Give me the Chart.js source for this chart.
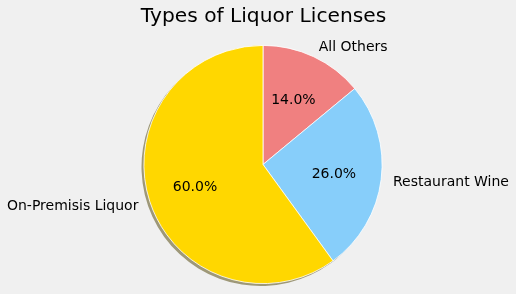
<!DOCTYPE html>
<html>
<head>
<meta charset="utf-8">
<script src="https://cdn.jsdelivr.net/npm/chart.js@4/dist/chart.umd.min.js"></script>
<style>
  html, body { margin: 0; padding: 0; background: #f0f0f0; }
  #wrap { width: 516px; height: 294px; position: relative; }
</style>
</head>
<body>
<div id="wrap"><canvas id="pie"></canvas></div>
<script>
// Données (ordre horaire depuis le haut)
const labels = ['All Others', 'Restaurant Wine', 'On-Premisis Liquor'];
const values = [14, 26, 60];
const colors = ['#f08080', '#87cefa', '#ffd700'];
const shadowColors = ['rgb(156,139,139)', 'rgb(140,151,157)', 'rgb(158,152,120)'];
const titleText = 'Types of Liquor Licenses';

const FONT = '"DejaVu Sans", sans-serif';

// Ombre + étiquettes façon matplotlib
const pieDecor = {
    id: 'pieDecor',
    beforeDatasetsDraw(chart) {
        const ctx = chart.ctx;
        const arcs = chart.getDatasetMeta(0).data;
        ctx.save();
        arcs.forEach((arc, i) => {
            const { x, y, outerRadius, startAngle, endAngle } = arc.getProps(['x', 'y', 'outerRadius', 'startAngle', 'endAngle'], true);
            const ox = x - 2.4, oy = y + 2.4;
            ctx.beginPath();
            ctx.moveTo(ox, oy);
            ctx.arc(ox, oy, outerRadius, startAngle, endAngle);
            ctx.closePath();
            ctx.fillStyle = shadowColors[i];
            ctx.fill();
        });
        ctx.restore();
    },
    afterDatasetsDraw(chart) {
        const ctx = chart.ctx;
        const arcs = chart.getDatasetMeta(0).data;
        const total = values.reduce((a, b) => a + b, 0);
        ctx.save();
        ctx.fillStyle = '#000';
        ctx.font = '14px ' + FONT;
        ctx.textBaseline = 'middle';
        arcs.forEach((arc, i) => {
            const { x, y, outerRadius, startAngle, endAngle } = arc.getProps(['x', 'y', 'outerRadius', 'startAngle', 'endAngle'], true);
            const mid = (startAngle + endAngle) / 2;
            const cx = Math.cos(mid), cy = Math.sin(mid);
            // pourcentage
            ctx.textAlign = 'center';
            ctx.fillText((values[i] / total * 100).toFixed(1) + '%', x + cx * outerRadius * 0.6, y + cy * outerRadius * 0.6 + 1);
            // libellé
            ctx.textAlign = cx >= 0 ? 'left' : 'right';
            ctx.fillText(labels[i], x + cx * outerRadius * 1.1, y + cy * outerRadius * 1.1 + 1);
        });
        // titre
        ctx.font = '20.2px ' + FONT;
        ctx.textAlign = 'center';
        ctx.fillText(titleText, 263.5, 17);
        ctx.restore();
    }
};

new Chart(document.getElementById('pie').getContext('2d'), {
    type: 'pie',
    data: {
        labels: labels,
        datasets: [{
            data: values,
            backgroundColor: colors,
            borderColor: '#ffffff',
            borderWidth: 0.8
        }]
    },
    options: {
        responsive: true,
        maintainAspectRatio: false,
        animation: false,
        layout: { padding: { top: 45, bottom: 10, left: 110, right: 100 } },
        plugins: {
            legend: { display: false },
            tooltip: { enabled: false },
            title: { display: false }
        }
    },
    plugins: [pieDecor]
});
</script>
</body>
</html>
